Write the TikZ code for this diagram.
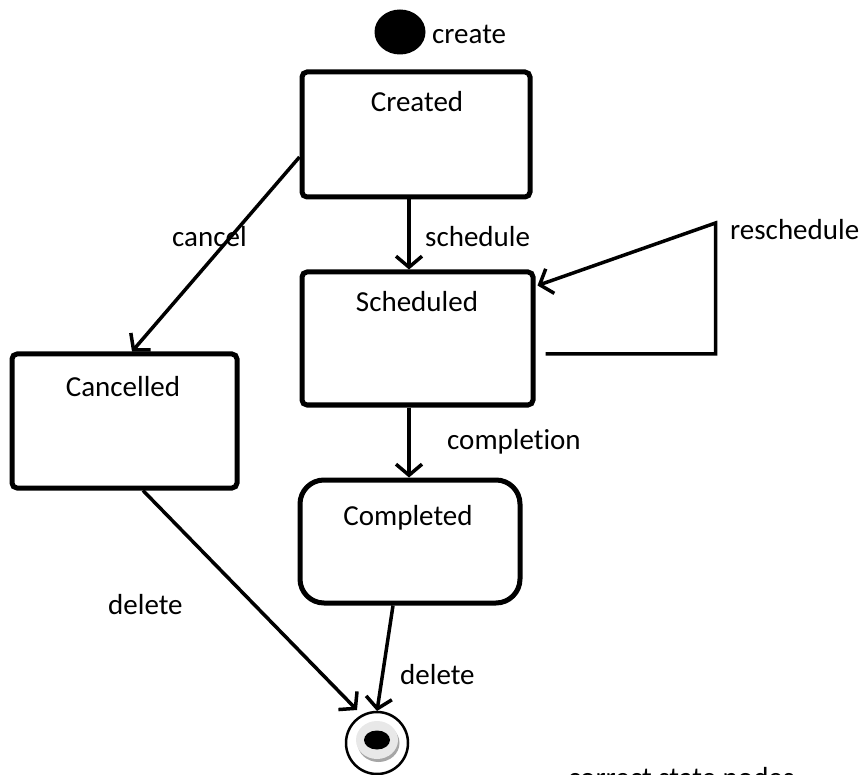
\documentclass[tikz,border=0pt]{standalone}
\usepackage{fontspec}
\setmainfont[Ligatures={NoCommon}]{Carlito}
\usetikzlibrary{arrows.meta,calc,shapes.geometric}
\begin{document}
\begin{tikzpicture}[x=1pt,y=-1pt,
  statebox/.style={draw, line width=5pt, rounded corners=5pt, inner sep=0pt},
  trans/.style={line width=3.5pt, -{Straight Barb[length=11pt,width=26pt]}},
  txt/.style={font=\fontsize{29}{34}\selectfont, inner sep=0pt, anchor=base west},
  ttl/.style={font=\fontsize{29}{34}\selectfont, inner sep=0pt, anchor=base},
]
\useasboundingbox (0,0) rectangle (862,775);
\clip (0,0) rectangle (862,775);

% states
\node[ellipse, fill=black, minimum width=51, minimum height=45, inner sep=0pt] (init) at (400,32) {};
\node[statebox, minimum width=228, minimum height=125] (created) at (416,134.5) {};
\node[statebox, minimum width=231, minimum height=133] (sched) at (417.5,338.5) {};
\node[statebox, minimum width=225, minimum height=134] (cancelled) at (124.5,421) {};
\node[statebox, rounded corners=24pt, minimum width=220, minimum height=123] (completed) at (410,541.5) {};
\node[circle, draw, line width=2.5pt, minimum size=62, inner sep=0pt] (final) at (377,743) {};
\fill[black!35] ($(final.center)+(1.5,0)$) ellipse (21 and 19);
\fill[black!9] ($(final.center)+(0,-3)$) ellipse (21 and 19);
\fill[black] ($(final.center)+(0,-3)$) ellipse (13 and 9.5);

% state titles
\node[ttl] (tcreated) at (417,112) {Created};
\node[ttl] (tsched) at (417,312) {Scheduled};
\node[ttl] (tcancelled) at (123,397) {Cancelled};
\node[ttl] (tcompleted) at (408,525) {Completed};

% transitions
\draw[trans] ($(created.south)+(-7,0)$) -- ($(sched.north)+(-8.5,0)$);
\draw[trans] ($(created.west)+(0,22.5)$) -- ($(cancelled.north)+(7.5,0)$);
\draw[trans] ($(sched.south)+(-8.5,0)$) -- ($(completed.north)+(-1,0)$);
\draw[trans] ($(cancelled.south)+(18.5,0)$) -- ($(final.center)+(-20,-33)$);
\draw[trans] ($(completed.south)+(-17,0)$) -- ($(final.center)+(0,-32)$);
\draw[trans] ($(sched.east)+(10,15.5)$) -| ($(sched.east)+(180,-115.5)$) -- ($(sched.north east)+(2,16)$);

% labels
\node[txt] (lcreate) at (432,44) {create};
\node[txt] (lschedule) at (425,247) {schedule};
\node[txt] (lcancel) at (172,247) {cancel};
\node[txt] (lreschedule) at (730,240) {reschedule};
\node[txt] (lcompletion) at (447,449) {completion};
\node[txt] (ldelete1) at (108,614) {delete};
\node[txt] (ldelete2) at (400,684) {delete};
\node[txt] (lnote) at (568,787) {correct state nodes};
\end{tikzpicture}
\end{document}
